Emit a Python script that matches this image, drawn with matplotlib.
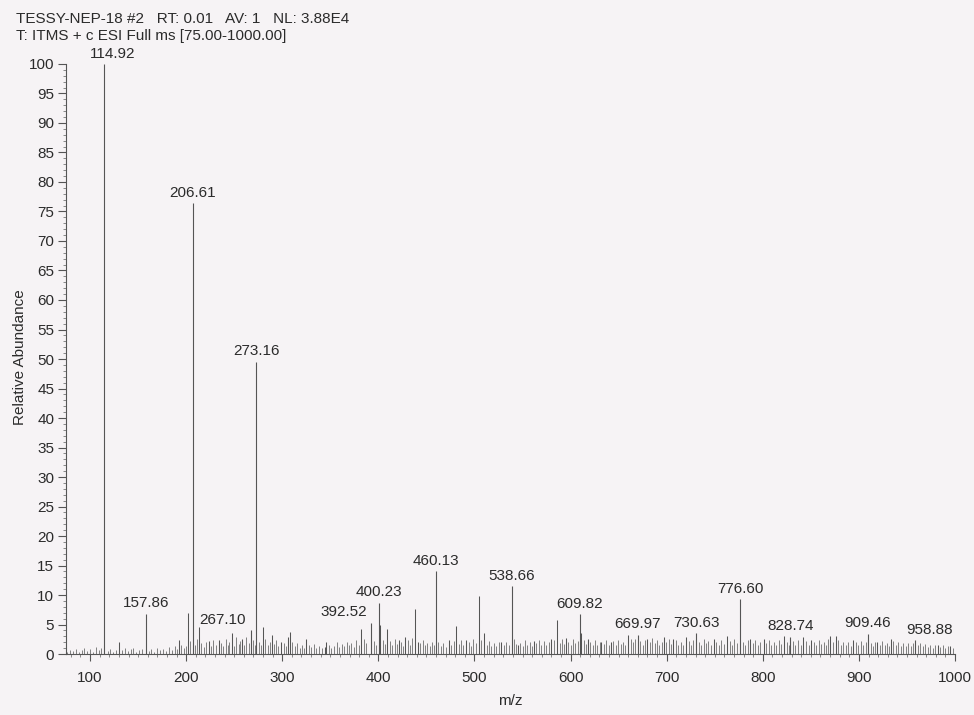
import matplotlib
matplotlib.use("Agg")
import matplotlib.pyplot as plt
from matplotlib.ticker import MultipleLocator

plt.rcParams["font.family"] = ["Liberation Sans", "DejaVu Sans"]

# ---- spectrum header -------------------------------------------------------
header_1 = "TESSY-NEP-18 #2   RT: 0.01   AV: 1   NL: 3.88E4"
header_2 = "T: ITMS + c ESI Full ms [75.00-1000.00]"

# ---- labelled peaks (m/z, relative abundance %) ----------------------------
label_mz = [114.92, 157.86, 206.61, 267.10, 273.16, 392.52, 400.23, 460.13,
            538.66, 609.82, 669.97, 730.63, 776.60, 828.74, 909.46, 958.88]
label_int = [100.0, 6.8, 76.4, 4.0, 49.5, 5.3, 8.7, 14.0,
             11.5, 6.7, 3.3, 3.5, 9.3, 2.9, 3.4, 2.3]
# horizontal nudge of each label (points) where labels would collide
label_dx = [6, 0, 0, -20, 0, -20, 0, 0, 0, 0, 0, 0, 0, 0, 0, 10]

# ---- other resolved peaks --------------------------------------------------
minor_mz = [130.2, 192.3, 202.1, 213.0, 223.4, 234.1, 247.2, 258.0, 280.1,
            289.2, 299.0, 306.1, 308.4, 325.0, 344.2, 346.0, 382.1, 402.1,
            409.2, 421.1, 428.0, 438.1, 441.6, 473.2, 481.1, 491.0, 504.3,
            510.2, 528.0, 545.2, 562.1, 580.0, 586.3, 595.2, 611.1, 618.0,
            632.0, 642.1, 660.2, 680.0, 697.2, 707.0, 720.1, 749.1, 763.0,
            787.1, 801.0, 822.1, 842.0, 850.2, 870.1, 876.0, 894.1, 919.0,
            933.2, 982.1, 995.0]
minor_int = [2.0, 2.4, 7.0, 4.6, 2.2, 2.4, 3.6, 2.6, 4.5,
             3.3, 2.0, 2.8, 3.8, 2.5, 1.2, 2.0, 4.2, 5.0,
             4.3, 2.4, 2.8, 7.6, 2.0, 2.3, 4.7, 2.3, 9.8,
             3.6, 2.0, 1.6, 2.2, 2.5, 5.8, 2.7, 3.6, 2.6,
             2.0, 2.1, 3.3, 2.5, 2.8, 2.5, 2.8, 2.5, 3.0,
             2.5, 2.5, 3.0, 2.8, 2.4, 3.0, 3.0, 2.3, 2.0,
             2.5, 1.5, 1.3]

# ---- low-level signal ------------------------------------------------------
noise_mz = [
    76.4, 79.1, 82.3, 85.0, 88.2, 91.1, 93.8, 97.0, 100.2, 103.1, 106.0, 109.3,
    111.8, 118.2, 121.0, 124.1, 127.2, 133.0, 136.1, 139.0, 142.2, 145.1, 148.0,
    151.2, 154.0, 160.9, 163.8, 167.0, 170.1, 172.8, 176.0, 179.2, 182.0, 185.1,
    188.0, 190.2, 195.0, 197.8,
    199.5, 204.0, 208.8, 210.9, 215.9, 218.2, 220.5, 225.8, 228.1, 230.9, 236.2,
    238.8, 241.0, 243.6, 245.0, 249.8, 252.1, 254.7, 256.2, 260.5, 262.1, 265.2,
    270.0, 271.5, 275.3, 277.8, 282.5, 285.0, 287.1, 291.4, 293.8, 296.0, 301.5,
    303.8, 310.5, 313.0, 315.6, 318.2, 321.0, 323.1, 327.8, 330.2, 333.0, 335.6,
    338.1, 341.0, 348.8, 351.2, 354.0, 356.5, 359.0, 361.8, 364.2, 367.0, 369.5,
    372.0, 374.8, 377.1, 379.6, 385.0, 387.6, 395.0, 397.4,
    404.6, 406.8, 411.9, 414.2, 416.8, 419.0, 423.6, 425.8, 430.5, 433.1, 435.5,
    443.8, 446.0, 448.5, 451.0, 453.2, 455.7, 458.0, 462.5, 465.0, 467.6, 470.1,
    475.8, 478.2, 483.7, 486.0, 488.4, 493.8, 496.1, 498.7, 501.2, 507.0, 512.8,
    515.1, 517.6, 520.0, 522.5, 525.2, 530.6, 533.0, 535.5, 541.0, 543.0, 547.8,
    550.1, 552.7, 555.0, 557.6, 559.8, 564.5, 567.0, 569.6, 572.1, 574.5, 577.2,
    582.6, 589.0, 591.5, 593.1, 597.8, 600.2, 602.7, 605.0, 607.3,
    613.6, 615.8, 620.6, 623.0, 625.5, 628.0, 630.2, 634.6, 637.1, 639.5, 644.6,
    647.0, 649.8, 652.1, 654.5, 657.0, 662.6, 665.0, 667.4, 672.5, 675.0, 677.6,
    682.4, 685.0, 687.5, 690.0, 692.5, 695.0, 699.7, 702.3, 704.6, 709.5, 712.0,
    714.6, 717.2, 722.7, 725.1, 727.8, 733.2, 735.8, 738.4, 741.0, 743.5, 746.4,
    751.7, 754.2, 756.8, 759.4, 765.6, 768.1, 770.5, 773.0, 779.0, 781.6, 784.5,
    789.7, 792.3, 794.8, 797.3,
    803.6, 806.2, 808.7, 811.4, 814.0, 816.5, 819.3, 824.8, 827.1, 831.5, 834.0,
    836.6, 839.4, 844.6, 847.6, 852.8, 855.4, 858.0, 860.6, 863.2, 865.8, 868.0,
    873.0, 878.6, 881.2, 883.8, 886.4, 889.0, 891.5, 896.7, 899.2, 901.9, 904.5,
    907.0, 912.1, 914.6, 916.8, 921.6, 924.2, 926.8, 929.4, 931.0, 935.8, 938.4,
    941.0, 943.6, 946.2, 948.8, 951.4, 954.0, 956.6, 961.4, 964.0, 966.6, 969.2,
    971.8, 974.4, 977.0, 979.6, 984.6, 987.2, 989.8, 992.4, 997.6]
noise_int = [
    0.4, 0.7, 0.5, 0.9, 0.4, 0.6, 1.0, 0.5, 0.8, 0.4, 1.2, 0.6,
    1.1, 0.5, 0.9, 0.4, 0.7, 0.6, 1.1, 0.5, 0.8, 1.0, 0.4,
    0.7, 0.9, 0.5, 0.8, 0.4, 1.0, 0.6, 0.9, 0.5, 1.2, 0.7,
    1.4, 0.8, 1.6, 1.0,
    1.3, 2.2, 1.5, 2.6, 1.8, 1.2, 2.0, 1.4, 2.4, 1.6, 1.9,
    1.3, 2.6, 1.5, 2.0, 1.4, 2.8, 1.7, 2.2, 1.6, 2.9, 1.8,
    2.3, 1.5, 2.0, 1.6, 2.5, 1.5, 2.0, 1.7, 2.4, 1.3, 1.9,
    1.4, 2.1, 1.4, 1.8, 1.1, 1.6, 1.0, 1.5, 1.2, 1.7, 1.0,
    1.4, 1.1, 1.6, 1.0, 1.3, 2.0, 1.2, 1.7, 1.4, 2.1, 1.5,
    1.8, 1.2, 2.3, 1.6, 2.5, 1.8, 2.2, 1.6,
    2.4, 1.7, 2.2, 1.5, 2.6, 1.7, 2.0, 1.4, 2.3, 1.6, 2.7,
    1.8, 2.4, 1.5, 1.9, 1.3, 2.1, 1.6, 2.0, 1.3, 1.8, 1.2,
    1.6, 2.2, 1.7, 2.4, 1.5, 2.0, 1.4, 2.5, 1.8, 2.3, 1.6,
    2.2, 1.4, 1.9, 1.3, 2.0, 1.5, 2.1, 1.6, 2.6, 1.7, 1.9,
    1.4, 2.3, 1.6, 2.0, 1.3, 1.8, 2.4, 1.5, 2.2, 1.6, 2.0,
    2.3, 1.9, 2.5, 1.7, 2.0, 1.5, 2.6, 1.8, 2.2,
    2.4, 1.7, 2.1, 1.5, 2.3, 1.6, 2.0, 1.7, 2.3, 1.5, 2.2,
    1.6, 2.4, 1.7, 2.1, 1.6, 2.5, 2.0, 2.6, 2.2, 1.6, 2.4,
    2.0, 2.7, 1.8, 2.3, 1.6, 2.1, 2.0, 2.6, 1.7, 2.3, 1.6,
    2.0, 1.5, 2.2, 1.6, 2.4, 2.0, 1.6, 2.5, 1.8, 2.2, 1.5,
    2.0, 1.5, 2.4, 1.7, 2.2, 1.6, 2.6, 1.8, 2.1, 1.6, 2.3,
    1.8, 2.4, 1.6, 2.0,
    1.8, 2.3, 1.5, 2.1, 1.6, 2.4, 1.7, 2.0, 1.5, 2.2, 1.6,
    2.3, 1.5, 2.2, 1.6, 2.0, 1.5, 2.4, 1.7, 2.1, 1.5, 2.5,
    2.0, 2.3, 1.6, 2.1, 1.5, 2.0, 1.4, 2.0, 1.5, 2.2, 1.6,
    2.0, 1.8, 1.4, 2.0, 1.6, 2.2, 1.5, 1.9, 1.4, 2.2, 1.6,
    2.0, 1.4, 1.8, 1.3, 1.9, 1.4, 1.8, 1.5, 1.9, 1.3, 1.7,
    1.2, 1.6, 1.1, 1.5, 1.2, 1.5, 1.0, 1.3, 1.0]

# ---- axis settings ---------------------------------------------------------
mz_range = (75.0, 1000.0)
abundance_range = (0.0, 100.0)
x_ticks = [100, 200, 300, 400, 500, 600, 700, 800, 900, 1000]
y_ticks = [0, 5, 10, 15, 20, 25, 30, 35, 40, 45, 50, 55, 60, 65, 70, 75, 80,
           85, 90, 95, 100]

paper = "#f6f3f5"
ink = "#2b2b2b"
stick = "#555555"
grass = "#808080"
fs = 11

fig = plt.figure(figsize=(9.74, 7.15), dpi=100, facecolor=paper)
ax = fig.add_axes([0.0678, 0.0853, 0.9127, 0.8252])
ax.set_facecolor("none")

# sticks
ax.vlines(noise_mz, 0, noise_int, colors=grass, linewidth=0.7)
ax.vlines(minor_mz, 0, minor_int, colors=stick, linewidth=0.75)
ax.vlines(label_mz, 0, label_int, colors=stick, linewidth=0.8)

for mz, val, dx in zip(label_mz, label_int, label_dx):
    ax.annotate(f"{mz:.2f}", xy=(mz, val), xytext=(dx, 2.5),
                textcoords="offset points", ha="center", va="bottom",
                fontsize=fs, color=ink)

ax.set_xlim(*mz_range)
ax.set_ylim(*abundance_range)
ax.set_xticks(x_ticks)
ax.set_yticks(y_ticks)
ax.xaxis.set_minor_locator(MultipleLocator(10))
ax.yaxis.set_minor_locator(MultipleLocator(1))

for side in ("top", "right"):
    ax.spines[side].set_visible(False)
for side in ("left", "bottom"):
    ax.spines[side].set_color("#555555")
    ax.spines[side].set_linewidth(0.8)

ax.tick_params(axis="both", which="major", direction="out", colors="#555555",
               labelcolor=ink, labelsize=fs, width=0.8)
ax.tick_params(axis="y", which="major", length=5.5, pad=3)
ax.tick_params(axis="x", which="major", length=5, pad=7)
ax.tick_params(axis="both", which="minor", direction="out", length=2.2,
               width=0.6, colors="#777777")

ax.set_xlabel("m/z", fontsize=fs, color=ink, labelpad=7)
fig.text(0.021, 0.50, "Relative Abundance", rotation=90, ha="center",
         va="center", fontsize=fs, color=ink)

fig.text(0.016, 0.973, header_1, ha="left", va="center", fontsize=fs,
         color=ink)
fig.text(0.016, 0.950, header_2, ha="left", va="center", fontsize=fs,
         color=ink)

fig.savefig("out.png", dpi=100, facecolor=paper)
